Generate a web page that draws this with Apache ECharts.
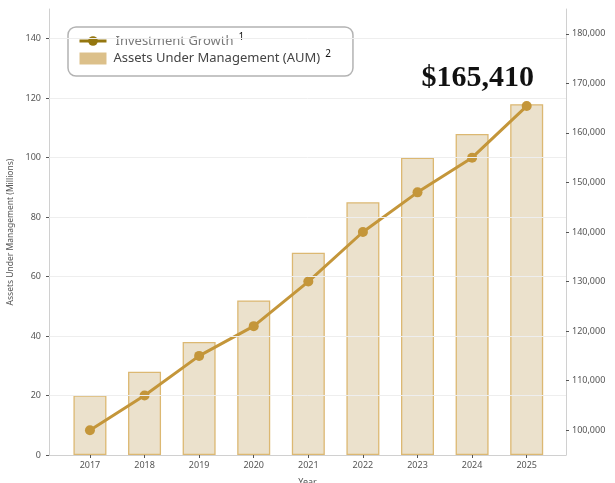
<!DOCTYPE html>
<html><head><meta charset="utf-8">
<script src="https://cdn.jsdelivr.net/npm/echarts@6/dist/echarts.min.js"></script>
<style>html,body{margin:0;padding:0;background:#fff}#c{width:615px;height:483px}</style>
</head><body><div id="c"></div>
<script>
var years = ['2017','2018','2019','2020','2021','2022','2023','2024','2025'];
var aum = [20, 28, 38, 52, 68, 85, 100, 108, 118];
var growth = [100000, 107000, 115000, 121000, 130000, 140000, 148000, 155000, 165410];
var leftTicks = [0, 20, 40, 60, 80, 100, 120, 140];
var rightTicks = [100000, 110000, 120000, 130000, 140000, 150000, 160000, 170000, 180000];
var gridLines = [20, 40, 60, 80, 100, 120, 140];

var idx = years.map(function(_, i){ return i; });
var font = '"Noto Sans", "Open Sans", sans-serif';
var chart = echarts.init(document.getElementById('c'), null, {renderer:'canvas'});
chart.setOption({
  animation: false,
  grid: {left: 49, right: 49, top: 9, bottom: 28, containLabel: false, outerBoundsMode: 'none'},
  legend: {
    orient: 'vertical', left: 68, top: 27,
    padding: [5, 22, 11, 10], itemGap: 2,
    itemWidth: 27, itemHeight: 12,
    backgroundColor: '#fff', borderColor: '#b3b3b3', borderWidth: 1.5, borderRadius: 8,
    textStyle: {fontFamily: font, fontSize: 13,
      rich: {
        g: {fontFamily: font, fontSize: 13, color: '#7a7a7a', padding: [0,0,0,4]},
        a: {fontFamily: font, fontSize: 13, color: '#444', padding: [0,0,0,2]},
        s: {fontFamily: font, fontSize: 10, color: '#111', verticalAlign: 'top', padding: [0,0,8,5]}
      }},
    formatter: function(n){
      return n === 'Investment Growth' ? '{g|' + n + '}{s|1}' : '{a|' + n + '}{s|2}';
    },
    data: [
      {name: 'Investment Growth', itemStyle: {color: '#94760f'}, lineStyle: {color: '#94760f', width: 3}},
      {name: 'Assets Under Management (AUM)', icon: 'rect', itemStyle: {color: '#dcc08a', borderWidth: 0}}
    ]
  },
  xAxis: {
    type: 'value', min: -0.75, max: 8.72,
    name: 'Year', nameLocation: 'middle', nameGap: 23,
    nameTextStyle: {fontFamily: font, fontSize: 9, color: '#555'},
    axisLine: {show: true, onZero: false, lineStyle: {color: '#d0d0d0', width: 1}},
    axisTick: {show: true, customValues: idx, length: 3, lineStyle: {color: '#555'}},
    axisLabel: {customValues: idx, fontFamily: font, fontSize: 9, color: '#555', margin: 6,
      formatter: function(v){ return years[Math.round(v)]; }},
    splitLine: {show: false}
  },
  yAxis: [{
    type: 'value', min: 0, max: 150, position: 'left',
    name: 'Assets Under Management (Millions)', nameLocation: 'middle', nameGap: 31,
    nameTextStyle: {fontFamily: font, fontSize: 8.5, color: '#555'},
    axisLine: {show: true, onZero: false, lineStyle: {color: '#d0d0d0', width: 1}},
    axisTick: {show: true, customValues: leftTicks, length: 3, lineStyle: {color: '#555'}},
    axisLabel: {customValues: leftTicks, fontFamily: font, fontSize: 9, color: '#555', margin: 8},
    splitLine: {show: false}
  }, {
    type: 'value', min: 95000, max: 185000, position: 'right',
    name: 'Investment Value ($)', nameLocation: 'middle', nameGap: 48,
    nameTextStyle: {fontFamily: font, fontSize: 9, color: '#ddd'},
    axisLine: {show: true, onZero: false, lineStyle: {color: '#d0d0d0', width: 1}},
    axisTick: {show: true, customValues: rightTicks, length: 3, lineStyle: {color: '#555'}},
    axisLabel: {customValues: rightTicks, fontFamily: font, fontSize: 9, color: '#555', margin: 6,
      formatter: function(v){ return v.toLocaleString('en-US'); }},
    splitLine: {show: false}
  }],
  series: [{
    name: 'grid', type: 'line', data: [], z: 1, silent: true,
    markLine: {silent: true, symbol: 'none', label: {show: false},
      lineStyle: {color: '#eeeeee', width: 1, type: 'solid'},
      data: gridLines.map(function(v){ return {yAxis: v}; })}
  }, {
    name: 'Assets Under Management (AUM)', type: 'bar', yAxisIndex: 0, z: 2,
    barWidth: 33,
    data: aum.map(function(v, i){ return [i, v]; }),
    itemStyle: {color: 'rgba(222,205,170,0.6)', borderColor: '#dcb872', borderWidth: 1.3}
  }, {
    name: 'Investment Growth', type: 'line', yAxisIndex: 1, z: 3,
    data: growth.map(function(v, i){
      var d = {value: [i, v]};
      if (i === growth.length - 1) {
        d.label = {show: true, position: 'inside', offset: [-49, -28],
          formatter: '$' + v.toLocaleString('en-US'),
          fontFamily: '"Liberation Serif", "DejaVu Serif", serif', fontWeight: 'bold',
          fontSize: 30, color: '#111'};
      }
      return d;
    }),
    symbol: 'circle', symbolSize: 10,
    lineStyle: {color: '#c4963a', width: 3},
    itemStyle: {color: '#c4963a'}
  }]
});
</script></body></html>
